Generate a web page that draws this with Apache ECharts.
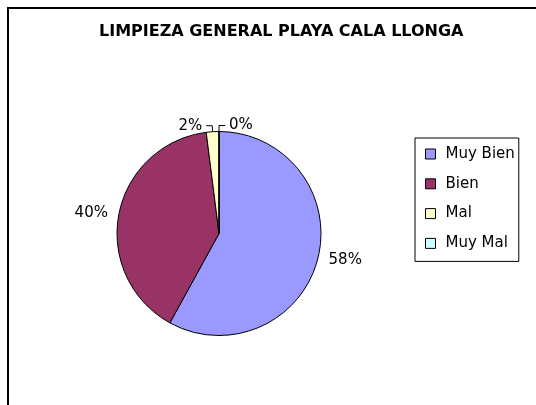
<!DOCTYPE html>
<html>
<head>
<meta charset="utf-8">
<script src="https://cdn.jsdelivr.net/npm/echarts@6/dist/echarts.min.js"></script>
<style>
html,body{margin:0;padding:0;background:#fff;}
#chart{width:536px;height:405px;}
</style>
</head>
<body>
<div id="chart"></div>
<script>
const titleText = 'LIMPIEZA GENERAL PLAYA CALA LLONGA';
const categories = ['Muy Bien', 'Bien', 'Mal', 'Muy Mal'];
const values = [58, 40, 2, 0];
const colors = ['#9999FF', '#993366', '#FFFFCC', '#CCFFFF'];

const chart = echarts.init(document.getElementById('chart'), null, {renderer: 'canvas'});
const FONT = 'DejaVu Sans';

const data = categories.map((name, i) => {
  const item = {name: name, value: values[i], itemStyle: {color: colors[i]}};
  if (i < 2) {
    item.labelLine = {show: false, length: 7, length2: 0};
  }
  return item;
});

chart.setOption({
  backgroundColor: '#ffffff',
  animation: false,
  graphic: [{
    type: 'rect',
    shape: {x: 8, y: 8, width: 700, height: 600},
    style: {fill: 'none', stroke: '#000', lineWidth: 2},
    silent: true
  }],
  title: {
    text: titleText,
    left: 99,
    top: 24,
    padding: 0,
    textStyle: {fontFamily: FONT, fontWeight: 'bold', fontSize: 16, color: '#000'}
  },
  legend: {
    orient: 'vertical',
    left: 415,
    top: 138,
    data: categories,
    icon: 'rect',
    itemWidth: 10,
    itemHeight: 10,
    itemGap: 13.8,
    padding: [8, 4, 10, 10],
    borderColor: '#000',
    borderWidth: 1,
    backgroundColor: '#fff',
    itemStyle: {borderColor: '#000', borderWidth: 1},
    textStyle: {fontFamily: FONT, fontSize: 15, color: '#000', lineHeight: 16, padding: [0, 0, 0, 5]}
  },
  series: [{
    type: 'pie',
    center: [219, 233.5],
    radius: 102,
    startAngle: 90,
    clockwise: true,
    avoidLabelOverlap: false,
    data: data,
    itemStyle: {borderColor: '#000', borderWidth: 1},
    emphasis: {disabled: true},
    label: {
      show: true,
      position: 'outside',
      formatter: '{d}%',
      fontFamily: FONT,
      fontSize: 15,
      color: '#000',
      distanceToLabelLine: 4
    },
    labelLine: {show: true, length: 6, length2: 6, smooth: false, lineStyle: {color: '#000', width: 1}},
    labelLayout: function (params) {
      if (params.dataIndex === 3 && params.labelLinePoints) {
        const p = params.labelLinePoints;
        const x2 = p[1][0];
        const x3 = x2 + Math.abs(p[2][0] - x2);
        return {
          x: x3 + 4,
          y: p[1][1],
          align: 'left',
          verticalAlign: 'middle',
          labelLinePoints: [p[0], p[1], [x3, p[2][1]]]
        };
      }
    }
  }]
});
</script>
</body>
</html>
